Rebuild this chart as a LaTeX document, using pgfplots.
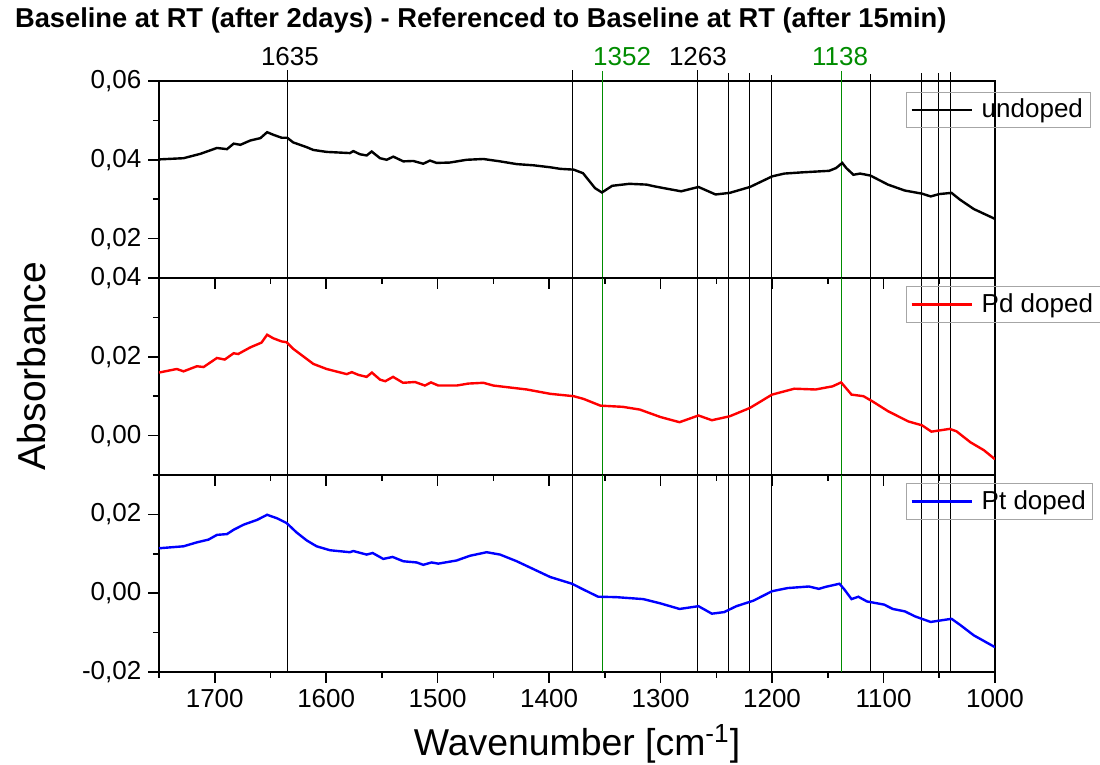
\documentclass[border=0pt]{standalone}
\usepackage{pgfplots}
\pgfplotsset{compat=1.18}
\usepackage{fontspec}
\setmainfont{Liberation Sans}
\definecolor{vgreen}{RGB}{0,140,0}
\newcommand{\tfont}{\fontsize{13}{15}\selectfont}
\tikzset{
  vline/.style={black, line width=0.6pt},
  gline/.style={vgreen, line width=0.6pt},
}
\pgfplotsset{
  panel/.style={
    scale only axis, width=418pt, height=98.5pt,
    x dir=reverse, xmin=1000, xmax=1750,
    xtick={1000,1100,...,1700}, minor xtick={1050,1150,...,1750},
    xtick pos=bottom, ytick pos=left, tick align=outside,
    major tick length=5.3pt, minor tick length=3pt,
    axis line style={line width=0.8pt},
    every tick/.style={black, line width=0.8pt},
    every minor tick/.style={black, line width=0.8pt},
    ticklabel style={font=\tfont},
    /pgf/number format/assume math mode=true,
    scaled y ticks=false,
    xticklabel style={/pgf/number format/.cd, 1000 sep={}},
    yticklabel style={/pgf/number format/.cd, fixed, fixed zerofill, precision=2, use comma},
    legend style={draw=gray!70, fill=none, at={(0.8935,0.959)}, anchor=north west,
      font=\tfont, inner xsep=2pt, inner ysep=2.5pt,
      nodes={inner xsep=1.5pt, inner ysep=1pt}},
    legend image code/.code={\draw[#1] (0pt,0pt) -- (30pt,0pt); \path (33pt,0pt);},
    legend cell align=left,
  },
  curve/.style={line width=1.2pt},
}
\begin{document}
\begin{tikzpicture}
\useasboundingbox (0,0) rectangle (550pt,382.5pt);
% ---------------- top panel
\begin{axis}[panel, at={(79.5pt,243.5pt)}, anchor=south west,
  ymin=0.01, ymax=0.06, ytick={0.02,0.04,0.06}, minor ytick={0.01,0.03,0.05},
  xticklabels={}, clip=false, legend style={at={(0.8935,0.946)}}]
\draw[vline] (1635,0.01) -- (1635,0.0628);
\draw[vline] (1379,0.01) -- (1379,0.0628);
\draw[gline] (1352,0.01) -- (1352,0.0626);
\draw[vline] (1267,0.01) -- (1267,0.0628);
\draw[vline] (1239,0.01) -- (1239,0.0621);
\draw[vline] (1220,0.01) -- (1220,0.0619);
\draw[vline] (1200.5,0.01) -- (1200.5,0.0616);
\draw[gline] (1138,0.01) -- (1138,0.0626);
\draw[vline] (1112,0.01) -- (1112,0.0617);
\draw[vline] (1066,0.01) -- (1066,0.0621);
\draw[vline] (1051,0.01) -- (1051,0.0621);
\draw[vline] (1040,0.01) -- (1040,0.0622);
\node[font=\tfont, anchor=base] at (1632.5,0.0640) {1635};
\node[font=\tfont, anchor=base, text=vgreen] at (1334.5,0.0640) {1352};
\node[font=\tfont, anchor=base] at (1266.5,0.0640) {1263};
\node[font=\tfont, anchor=base, text=vgreen] at (1139,0.0640) {1138};
\addplot[curve, black] coordinates {
(1750,0.0401) (1728,0.0404) (1713,0.0415) (1698,0.0430) (1689,0.0427) (1683,0.0441)
(1677,0.0438) (1668,0.0449) (1659,0.0455) (1653,0.0470) (1647,0.0463) (1640,0.0456)
(1635,0.0456) (1629.5,0.0444) (1617.5,0.0432) (1611.6,0.0425) (1599.6,0.0420)
(1578.7,0.0417) (1575.7,0.0422) (1569.7,0.0414) (1563.7,0.0411) (1559.2,0.0421)
(1551.7,0.0404) (1545.7,0.0400) (1539.8,0.0408) (1530.8,0.0396) (1521.9,0.0397)
(1512.9,0.0390) (1506.9,0.0398) (1500.9,0.0392) (1489,0.0393) (1474,0.0400)
(1459,0.0402) (1444,0.0396) (1429,0.0389) (1414,0.0386) (1399,0.0381) (1390,0.0377)
(1378,0.0375) (1369.6,0.0366) (1358.8,0.0328) (1352.6,0.0317) (1343.4,0.0334)
(1328,0.0339) (1312.5,0.0337) (1306.3,0.0333) (1297,0.0328) (1281.6,0.0320)
(1266,0.0331) (1250.7,0.0312) (1238,0.0316) (1219.8,0.0331) (1199.8,0.0358)
(1189,0.0365) (1173.5,0.0368) (1148.8,0.0372) (1142.6,0.0379) (1137,0.0392)
(1133.4,0.0379) (1127,0.0362) (1121,0.0365) (1111.8,0.0360) (1096,0.0337)
(1081,0.0322) (1065.4,0.0314) (1057.7,0.0307) (1050,0.0313) (1039,0.0316)
(1031.5,0.0299) (1019,0.0275) (1000,0.0250)
};
\addlegendentry{undoped}
\end{axis}
% ---------------- middle panel
\begin{axis}[panel, at={(79.5pt,145pt)}, anchor=south west,
  ymin=-0.01, ymax=0.04, ytick={0,0.02,0.04}, minor ytick={-0.01,0.01,0.03},
  xticklabels={}]
\draw[vline] (1635,-0.01) -- (1635,0.04);
\draw[vline] (1379,-0.01) -- (1379,0.04);
\draw[gline] (1352,-0.01) -- (1352,0.04);
\draw[vline] (1267,-0.01) -- (1267,0.04);
\draw[vline] (1239,-0.01) -- (1239,0.04);
\draw[vline] (1220,-0.01) -- (1220,0.04);
\draw[vline] (1200.5,-0.01) -- (1200.5,0.04);
\draw[gline] (1138,-0.01) -- (1138,0.04);
\draw[vline] (1112,-0.01) -- (1112,0.04);
\draw[vline] (1066,-0.01) -- (1066,0.04);
\draw[vline] (1051,-0.01) -- (1051,0.04);
\draw[vline] (1040,-0.01) -- (1040,0.04);
\addplot[curve, red] coordinates {
(1750,0.0160) (1734,0.0169) (1728,0.0163) (1716,0.0176) (1710,0.0174) (1698,0.0197)
(1691,0.0193) (1683,0.0209) (1679,0.0207) (1668,0.0224) (1658,0.0236) (1653,0.0256)
(1647.5,0.0247) (1640,0.0239) (1635.5,0.0237) (1629.5,0.0220) (1620.5,0.0201)
(1611.6,0.0182) (1599.6,0.0169) (1581.6,0.0156) (1577,0.0161) (1571,0.0154)
(1563.7,0.0149) (1559,0.0160) (1551.7,0.0142) (1547,0.0138) (1540,0.0149)
(1531,0.0134) (1520.3,0.0136) (1511.4,0.0127) (1506,0.0135) (1499.4,0.0127)
(1483,0.0127) (1472.5,0.0132) (1459,0.0134) (1450,0.0127) (1435,0.0122)
(1420,0.0117) (1399,0.0106) (1378,0.0100) (1369,0.0093) (1354,0.0076)
(1334,0.0073) (1318.6,0.0066) (1300,0.0047) (1283,0.0034) (1266,0.0051)
(1254,0.0039) (1238,0.0049) (1220,0.0070) (1200,0.0104) (1180,0.0119)
(1161,0.0117) (1145.7,0.0125) (1138,0.0135) (1128.7,0.0104) (1118,0.0100)
(1110,0.0087) (1096,0.0062) (1077.8,0.0036) (1065.4,0.0026) (1057,0.0010)
(1040.7,0.0017) (1034.6,0.0011) (1022,-0.0017) (1010,-0.0037) (1000,-0.0060)
};
\addlegendentry{Pd doped}
\end{axis}
% ---------------- bottom panel
\begin{axis}[panel, at={(79.5pt,46.5pt)}, anchor=south west,
  ymin=-0.02, ymax=0.03, ytick={-0.02,0,0.02}, minor ytick={-0.01,0.01,0.03}]
\draw[vline] (1635,-0.02) -- (1635,0.03);
\draw[vline] (1379,-0.02) -- (1379,0.03);
\draw[gline] (1352,-0.02) -- (1352,0.03);
\draw[vline] (1267,-0.02) -- (1267,0.03);
\draw[vline] (1239,-0.02) -- (1239,0.03);
\draw[vline] (1220,-0.02) -- (1220,0.03);
\draw[vline] (1200.5,-0.02) -- (1200.5,0.03);
\draw[gline] (1138,-0.02) -- (1138,0.03);
\draw[vline] (1112,-0.02) -- (1112,0.03);
\draw[vline] (1066,-0.02) -- (1066,0.03);
\draw[vline] (1051,-0.02) -- (1051,0.03);
\draw[vline] (1040,-0.02) -- (1040,0.03);
\addplot[curve, blue] coordinates {
(1750,0.0114) (1728,0.0119) (1716,0.0129) (1705.6,0.0136) (1698,0.0148) (1689,0.0150)
(1683,0.0161) (1674,0.0174) (1662,0.0186) (1653,0.0199) (1644,0.0190) (1635.5,0.0178)
(1626.5,0.0154) (1617.5,0.0134) (1608.6,0.0119) (1596.6,0.0109) (1578.7,0.0104)
(1575.7,0.0107) (1563.7,0.0098) (1558.3,0.0102) (1548.8,0.0087) (1540.4,0.0092)
(1530.8,0.0081) (1518.8,0.0078) (1512.9,0.0072) (1505.4,0.0078) (1499.4,0.0075)
(1483,0.0083) (1471,0.0095) (1456,0.0104) (1444,0.0098) (1429,0.0081) (1414,0.0061)
(1399,0.0041) (1379.5,0.0024) (1369,0.0009) (1356,-0.0009) (1340,-0.0010)
(1315.6,-0.0015) (1300,-0.0026) (1283,-0.0040) (1266,-0.0033) (1254,-0.0052)
(1243,-0.0048) (1232,-0.0033) (1216.7,-0.0019) (1200,0.0005) (1186,0.0013)
(1167,0.0017) (1158,0.0011) (1152,0.0016) (1139.5,0.0024) (1135,0.0009)
(1128.7,-0.0015) (1122.6,-0.0009) (1114.8,-0.0021) (1099.4,-0.0029) (1091.7,-0.0040)
(1081,-0.0046) (1071.6,-0.0059) (1057.7,-0.0073) (1039,-0.0065) (1031.5,-0.0080)
(1019,-0.0107) (1000,-0.0137)
};
\addlegendentry{Pt doped}
\end{axis}
% ---------------- titles and labels
\node[anchor=west, font=\bfseries\fontsize{13.65}{16}\selectfont] at (4pt,372.5pt)
  {Baseline at RT (after 2days) - Referenced to Baseline at RT (after 15min)};
\node[rotate=90, font=\fontsize{19.5}{22}\selectfont] at (16pt,199.5pt) {Absorbance};
\node[font=\fontsize{18.7}{22}\selectfont] at (288.5pt,10.5pt) {Wavenumber [cm\textsuperscript{-1}]};
\end{tikzpicture}
\end{document}
